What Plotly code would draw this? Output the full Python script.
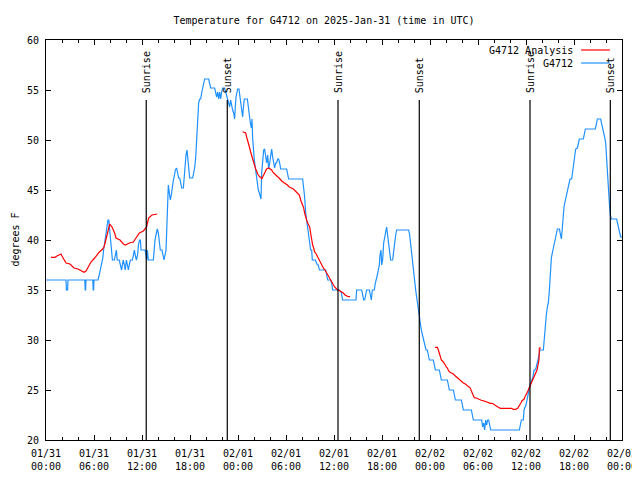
import pandas as pd
import plotly.graph_objects as go

BASE = pd.Timestamp("2025-01-31 00:00")

# G4712 observations: hours since 01/31 00:00 UTC, temperature (F)
obs_hours = [0, 2.5, 2.55, 2.7, 2.75, 4.85, 4.9, 4.95, 5.0, 5.85, 5.9, 5.95, 6.0, 6.5, 6.65, 6.8, 6.95, 7.1, 7.2, 7.35,
             7.5, 7.65, 7.75, 7.85, 7.9, 8.05, 8.15, 8.3, 8.55, 8.65, 8.8, 8.9, 9.15, 9.3, 9.45, 9.55, 9.65, 9.8, 9.9,
             10.05, 10.15, 10.3, 10.4, 10.55, 10.8, 10.9, 11.05, 11.15, 11.3, 11.45, 11.55, 11.7,
             11.8, 11.875, 12.375, 12.5, 12.58, 12.67, 12.79, 13.42, 13.5, 13.625, 13.75, 13.92, 14.04, 14.17, 14.29,
             14.5, 14.58, 14.75, 14.875, 15.0, 15.08, 15.17, 15.29, 15.42, 15.54, 15.67, 15.79, 15.92, 16.04, 16.17,
             16.33, 16.46, 16.58, 16.71, 16.83, 16.96, 17.17, 17.25, 17.375, 17.5, 17.625, 17.71, 17.83, 17.96, 18.33,
             18.46, 18.58, 18.71, 18.83, 18.96, 19.08, 19.21, 19.33, 19.46, 19.58, 19.71, 19.83, 20.33, 20.46, 20.58,
             21.08, 21.21, 21.33, 21.46, 21.58, 21.71, 21.83, 21.96, 22.08, 22.33, 22.46, 22.58, 22.71, 22.83, 22.96,
             23.08, 23.21, 23.33, 23.46, 23.58, 23.65, 23.75, 23.96, 24.125, 24.25, 24.375, 24.5, 24.58, 24.67, 24.79,
             25.17, 25.29, 25.42, 25.54, 25.67, 25.75, 25.83, 25.92, 26.04, 26.17, 26.29, 26.42, 26.54, 26.67, 26.79,
             26.875, 26.96, 27.08, 27.21, 27.33, 27.46, 27.58, 27.71, 27.83, 27.96, 28.08, 28.21, 28.33, 28.46, 28.58,
             28.71, 28.83, 28.96, 29.08, 29.21, 29.33, 30.08, 30.21, 30.33, 32.08, 32.21, 32.33, 32.46, 32.58, 32.71,
             32.83, 32.96, 33.08, 33.21, 33.29, 33.67, 33.79, 33.92, 34.04, 34.17, 34.96, 35.08, 35.21, 35.58, 35.71,
             35.83, 35.92, 36.67, 36.9, 37.08, 38.75, 38.83, 39.46, 39.58, 39.71, 39.83, 39.96, 40.08, 40.42, 40.54,
             40.67, 40.79, 41.04, 41.17, 41.29, 41.42, 41.54, 41.67, 41.75, 41.875, 41.96, 42.08, 42.21, 42.33, 42.46,
             42.58, 42.71, 42.83, 42.96, 43.08, 43.33, 43.46, 43.58, 43.71, 43.83, 45.33, 45.46, 45.58, 45.71, 45.83,
             45.96, 46.08, 46.21, 46.33, 46.46, 46.58, 46.71, 46.75, 46.875, 47.0, 47.125, 47.25, 47.375, 47.5, 47.67,
             47.79, 47.92, 48.42, 48.54, 48.67, 49.17, 49.29, 49.42, 50.17, 50.29, 50.42, 50.92, 51.04, 51.17, 51.92,
             52.04, 52.17, 53.17, 53.29, 53.42, 54.46, 54.58, 54.71, 54.83, 54.96, 55.08, 55.21, 55.33, 55.46, 55.58,
             59.17, 59.29, 59.42, 59.67, 59.75, 60.0, 60.125, 60.25, 60.29, 60.5, 60.625, 60.75, 60.875, 61.0, 61.125,
             61.25, 61.375, 61.5, 61.625, 61.75, 62.17, 62.29, 62.42, 62.54, 62.67, 62.79, 62.92, 63.04, 63.17, 63.29,
             63.42, 63.54, 63.67, 63.79, 63.92, 64.17, 64.29, 64.42, 64.5, 64.625, 64.75, 64.875, 65.0, 65.125, 65.25,
             65.375, 65.5, 65.71, 65.83, 65.96, 66.08, 66.21, 66.42, 66.54, 66.67, 67.17, 67.29, 67.42, 68.67, 68.79,
             68.92, 69.33, 69.46, 69.58, 69.71, 69.83, 69.96, 70.08, 70.21, 70.29, 70.42, 70.54, 70.67, 71.33, 71.46,
             71.58, 71.71, 71.83, 72.0]
obs_temp = [36, 36, 35, 35, 36, 36, 35, 35, 36, 36, 35, 35, 36, 36, 36.5, 37, 37.7, 38.2, 39, 39.7,
            40.7, 41.3, 42, 42, 41.5, 39.7, 38.7, 38, 38, 38.5, 39, 38, 38, 37.5, 37, 37.5, 38, 37.5, 37,
            38, 37.5, 37, 37.5, 38, 38, 38.5, 39, 38.5, 38, 38.5, 39.5, 40,
            40, 39, 39, 38.5, 38, 39, 38, 38, 39, 40, 40.5, 41.1, 40.7, 39.7, 39,
            39, 38.5, 38, 38.5, 39, 40.7, 44.3, 45.5, 44.7, 44, 44.5, 45.5, 46, 46.4, 47,
            47.2, 46.7, 46.2, 46.2, 45.7, 45.2, 45.2, 46.2, 47, 48.5, 49, 48.3, 47.3, 46.2, 46.2,
            46.7, 47.2, 48.2, 50, 52.7, 53.7, 54.1, 54.1, 54.7, 55.2, 55.7, 56.1, 56.1, 55.7, 55.2,
            55.2, 54.8, 54.3, 54.8, 54.1, 54.8, 54.1, 54.8, 55.2, 55.2, 54.8, 54.3, 53.8, 53.7, 53.3,
            54, 53.2, 53, 52.7, 52.1, 53.2, 54.3, 55.1, 55.1, 54.3, 53.7, 52.7, 52.3, 53.2, 54.1,
            54.1, 53.2, 52.7, 51.7, 51.2, 52.1, 50.2, 49, 48, 47.2, 46.3, 45.7, 45, 44.7, 44.2,
            44.1, 46.7, 48, 49, 49.1, 48.3, 47.7, 48.5, 47.1, 47.7, 48.7, 49.1, 48.3, 47.7, 47.2,
            47.7, 47.7, 48.1, 48.1, 47.7, 47.1, 47.1, 46.7, 46.1, 46.1, 45.3, 44.3, 42.7, 42, 41,
            40.8, 40, 39, 39, 38, 38, 37.7, 37.5, 37.5, 37, 37, 36.5, 36, 36, 35.7,
            35, 35, 35, 34.8, 34, 34, 35, 35, 34.5, 34, 34, 34.5, 35, 35, 34.5,
            34, 35, 35, 35.7, 36, 36.5, 37, 37.5, 38.5, 39, 37.5, 38, 39.7, 40.5, 40.8,
            41.3, 40.5, 39.5, 38.8, 38, 38, 39, 39.7, 40.5, 41, 41, 40.5, 39.5, 38.5, 37.7,
            37, 36, 35, 34.3, 33.5, 32.5, 31.7, 31.7, 31.2, 30.7, 30.2, 29.7, 29.2, 29, 29,
            28.5, 28, 28, 27.5, 27, 27, 26.5, 26, 26, 25.5, 25, 25, 24.5, 24, 24,
            23.5, 23, 23, 22.5, 22, 22, 21.3, 21.7, 21, 22, 21.5, 22, 22, 21.5, 21,
            21, 21.5, 22, 22, 23, 23.5, 24, 24.7, 25, 25.5, 25.8, 26, 26.3, 27, 27,
            27.2, 27.5, 28, 28.5, 29, 29, 30.5, 31.5, 32.5, 33.3, 33.7, 35, 37, 38.2, 38.7,
            39.2, 39.8, 40.3, 40.7, 41.1, 41.1, 40.5, 40.1, 40.8, 42.3, 43.3, 43.8, 44.3, 44.8, 45.3,
            45.8, 46.1, 46.1, 46.8, 47.7, 48.7, 49.1, 49.2, 49.7, 50.1, 50.1, 50.7, 51.1, 51.1, 51.6,
            52.1, 52.1, 51.7, 51.3, 50.8, 50.3, 49.7, 47.8, 46.3, 45, 43.7, 42.5, 42.1, 42.1, 41.7,
            41.2, 40.7, 40.3, 40.3]

# G4712 Analysis: hours, temperature (None = gap)
ana_hours = [0.625, 1.125, 1.375, 1.67, 1.875, 2.0, 2.17, 2.33, 2.5, 3.0, 3.5, 4.0, 4.5, 4.75, 5.0, 5.29, 5.625,
             6.08, 6.46, 6.67, 7.08, 7.25, 7.42, 7.55, 7.67, 7.83, 7.96, 8.25, 8.58, 8.75, 9.25, 9.67, 9.92, 10.42,
             10.92, 11.17, 11.42, 11.67, 12.17, 12.375, 12.58, 12.71, 12.83, 13.25, 13.75, 13.9,
             None,
             24.58, 24.96, 25.08, 25.21, 25.33, 25.46, 25.58, 25.71, 25.83, 25.96, 26.08, 26.21, 26.33, 26.46, 26.71,
             26.83, 26.96, 27.08, 27.21, 27.33, 27.46, 27.58, 27.83, 28.08, 28.21, 28.33, 28.46, 28.58, 28.83, 29.08,
             29.25, 29.46, 29.67, 29.92, 30.17, 30.42, 30.67, 30.92, 31.17, 31.42, 31.67, 31.83, 32.0, 32.21, 32.33,
             32.46, 32.58, 32.71, 32.96, 33.08, 33.21, 33.33, 33.46, 33.58, 33.71, 33.83, 33.96, 34.08, 34.25, 34.46,
             34.67, 34.875, 35.08, 35.29, 35.5, 35.71, 35.92, 36.08, 36.33, 36.54, 36.75, 36.96, 37.17, 37.375, 37.58,
             37.79, 38.0,
             None,
             48.625, 48.92, 49.04, 49.17, 49.29, 49.42, 49.67, 49.79, 49.92, 50.04, 50.17, 50.29, 50.42, 50.67, 50.92,
             51.17, 51.42, 51.67, 51.92, 52.17, 52.42, 52.67, 52.92, 53.04, 53.17, 53.29, 53.42, 53.54, 53.79, 54.04,
             54.29, 54.54, 54.79, 55.04, 55.29, 55.54, 55.79, 56.04, 56.29, 56.54, 56.79, 57.17, 57.67, 58.17, 58.42,
             58.71, 58.96, 59.08, 59.25, 59.375, 59.5, 59.625, 59.75, 59.875, 60.0, 60.125, 60.25, 60.375, 60.5,
             60.625, 60.75, 60.875, 61.0, 61.125, 61.25, 61.375, 61.5, 61.625, 61.67, 61.875]
ana_temp = [38.27, 38.27, 38.4, 38.5, 38.6, 38.4, 38.2, 37.9, 37.7, 37.6, 37.2, 37.1, 36.9, 36.77, 36.9, 37.3, 37.8,
            38.2, 38.6, 38.8, 39.1, 39.3, 39.8, 40.3, 40.8, 41.4, 41.6, 41.3, 40.7, 40.2, 40.0, 39.6, 39.5, 39.7,
            39.8, 40.1, 40.4, 40.7, 40.9, 41.1, 41.3, 41.8, 42.2, 42.5, 42.6, 42.6,
            None,
            50.83, 50.7, 50.3, 49.8, 49.5, 49.2, 48.8, 48.4, 48.0, 47.7, 47.3, 47.1, 46.9, 46.6, 46.3,
            46.3, 46.1, 46.3, 46.5, 46.7, 46.8, 47.1, 47.2, 47.1, 47.0, 46.8, 46.7, 46.6, 46.5, 46.3,
            46.1, 45.9, 45.8, 45.7, 45.5, 45.3, 45.2, 45.1, 44.9, 44.7, 44.5, 44.0, 43.7, 43.2, 42.7,
            42.2, 42.0, 41.7, 41.3, 40.7, 40.0, 39.5, 39.2, 38.8, 38.7, 38.5, 38.3, 38.2, 37.8, 37.5,
            37.2, 37.0, 36.7, 36.3, 36.0, 35.7, 35.5, 35.3, 35.1, 35.0, 34.9, 34.8, 34.7, 34.5, 34.4,
            34.33, 34.33,
            None,
            29.27, 29.27, 29.0, 28.7, 28.3, 28.0, 27.8, 27.7, 27.5, 27.3, 27.2, 27.0, 26.83, 26.7, 26.6,
            26.4, 26.2, 26.0, 25.9, 25.7, 25.6, 25.4, 25.3, 25.2, 24.9, 24.7, 24.4, 24.23, 24.2, 24.1,
            24.0, 23.93, 23.9, 23.83, 23.7, 23.67, 23.67, 23.5, 23.4, 23.27, 23.17, 23.17, 23.17, 23.17, 23.07,
            23.07, 23.17, 23.3, 23.5, 23.73, 23.93, 24.0, 24.07, 24.33, 24.5, 24.67, 24.93, 25.17, 25.4,
            25.67, 25.83, 26.0, 26.27, 26.5, 26.83, 27.0, 27.5, 28.0, 29.2, 29.2]

# Sun events: label, hours since 01/31 00:00 UTC
sun_labels = ["Sunrise", "Sunset", "Sunrise", "Sunset", "Sunrise", "Sunset"]
sun_hours = [12.53, 22.66, 36.5, 46.66, 60.5, 70.54]
sun_line_top = 54

title_text = "Temperature for G4712 on 2025-Jan-31 (time in UTC)"
y_label = "degrees F"
series_names = ["G4712 Analysis", "G4712"]
series_colors = ["#ff0000", "#1e90ff"]

FONT = "DejaVu Sans Mono"


def to_time(h):
    return None if h is None else BASE + pd.Timedelta(hours=h)


fig = go.Figure()
fig.add_trace(go.Scatter(x=[to_time(h) for h in obs_hours], y=obs_temp, mode="lines",
                         line=dict(color=series_colors[1], width=1.2), name=series_names[1]))
fig.add_trace(go.Scatter(x=[to_time(h) for h in ana_hours], y=ana_temp, mode="lines",
                         line=dict(color=series_colors[0], width=1.2), name=series_names[0],
                         connectgaps=False))

for lab, h in zip(sun_labels, sun_hours):
    t = to_time(h)
    fig.add_shape(type="line", xref="x", yref="y", x0=t, x1=t, y0=20, y1=sun_line_top,
                  line=dict(color="black", width=1.2))
    fig.add_annotation(x=t, y=sun_line_top, xref="x", yref="y", text=lab, textangle=-90,
                       showarrow=False, xanchor="center", yanchor="bottom", yshift=5,
                       font=dict(family=FONT, size=10, color="black"))

# gnuplot-style key (text then sample line), top right
key_rows = [0.975, 0.9425]
for name, col, yy in zip(series_names, series_colors, key_rows):
    fig.add_annotation(x=0.919, y=yy, xref="paper", yref="paper", text=name, showarrow=False,
                       xanchor="right", yanchor="middle", font=dict(family=FONT, size=10, color="black"))
    fig.add_shape(type="line", xref="paper", yref="paper", x0=0.929, x1=0.979, y0=yy, y1=yy,
                  line=dict(color=col, width=1.2))

fig.add_annotation(x=-0.0545, y=0.5, xref="paper", yref="paper", text=y_label, textangle=-90,
                   showarrow=False, xanchor="center", yanchor="middle",
                   font=dict(family=FONT, size=10, color="black"))

# page body has an 8px margin, so the figure is smaller and its margins shifted
fig.update_layout(
    width=632, height=464,
    margin=dict(l=38, r=18, t=32, b=32, autoexpand=False),
    paper_bgcolor="white", plot_bgcolor="white",
    showlegend=False,
    title=dict(text=title_text, x=0.5, xref="container", xanchor="center", y=1 - 12 / 464, yanchor="middle",
               font=dict(family=FONT, size=10, color="black")),
    font=dict(family=FONT, size=10, color="black"),
)
fig.update_xaxes(
    type="date", range=[BASE, BASE + pd.Timedelta(hours=72)], automargin=False,
    tick0=BASE, dtick=6 * 3600 * 1000, tickformat="%m/%d<br>%H:%M",
    ticks="inside", ticklen=5, tickcolor="black", tickwidth=1, ticklabelstandoff=4,
    showline=True, linecolor="black", linewidth=1, mirror="ticks",
    showgrid=False, zeroline=False,
    minor=dict(dtick=2 * 3600 * 1000, ticks="inside", ticklen=3, tickcolor="black", showgrid=False),
    tickfont=dict(family=FONT, size=10, color="black"),
)
fig.update_yaxes(
    range=[20, 60], dtick=5, ticks="inside", ticklen=5, tickcolor="black", tickwidth=1, automargin=False,
    ticklabelstandoff=4,
    showline=True, linecolor="black", linewidth=1, mirror="ticks",
    showgrid=False, zeroline=False,
    tickfont=dict(family=FONT, size=10, color="black"),
)

fig.write_html("out.html")
